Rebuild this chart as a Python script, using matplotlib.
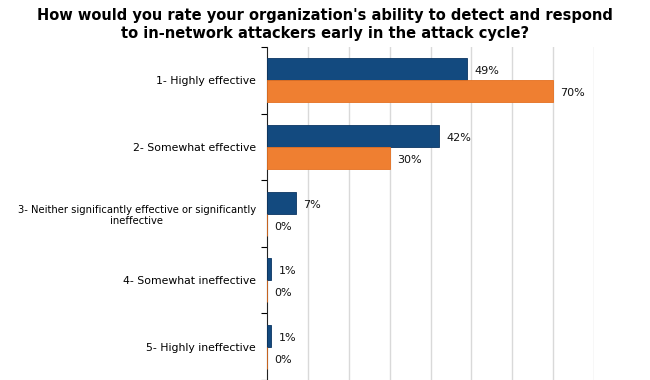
import matplotlib.pyplot as plt
import numpy as np

categories = ["1- Highly effective",
              "2- Somewhat effective",
              "3- Neither significantly effective or significantly\nineffective",
              "4- Somewhat ineffective",
              "5- Highly ineffective"]
blue_vals = [49, 42, 7, 1, 1]
orange_vals = [70, 30, 0, 0, 0]

blue = "#134A7F"
orange = "#EF7F31"

fig = plt.figure(figsize=(6.5, 3.8), dpi=100)
ax = fig.add_axes([0.411, 0.0, 0.503, 0.876])

y = np.arange(len(categories))
h = 0.33
ax.barh(y - h / 2, blue_vals, height=h, color=blue, edgecolor="#0B3563", linewidth=0.6, zorder=3)
ax.barh(y + h / 2, orange_vals, height=h, color=orange, edgecolor="#E57020", linewidth=0.6, zorder=3)

for i in range(len(categories)):
    ax.text(blue_vals[i] + 1.8, y[i] - h / 2 + 0.03, f"{blue_vals[i]}%", va="center", ha="left",
            fontsize=8, color="#111111")
    ax.text(orange_vals[i] + 1.8, y[i] + h / 2 + 0.03, f"{orange_vals[i]}%", va="center", ha="left",
            fontsize=8, color="#111111")

ax.set_xlim(0, 80)
ax.set_ylim(len(categories) - 0.5, -0.5)
ax.set_xticks(np.arange(10, 81, 10))
ax.xaxis.grid(True, color="#D9D9D9", linewidth=1, zorder=0)
ax.tick_params(axis="x", length=0, labelbottom=False)
ax.set_yticks(y)
ax.set_yticklabels(categories, fontsize=7.8, ha="right", multialignment="center")
ax.get_yticklabels()[2].set_fontsize(7.2)
ax.tick_params(axis="y", length=0, pad=8)
ax.set_yticks(np.arange(-0.5, len(categories), 1), minor=True)
ax.tick_params(axis="y", which="minor", length=4, width=0.8, direction="out")
for s in ["top", "right", "bottom"]:
    ax.spines[s].set_visible(False)
ax.spines["left"].set_color("#222222")

fig.suptitle("How would you rate your organization's ability to detect and respond\n"
             "to in-network attackers early in the attack cycle?",
             x=0.5, y=0.978, fontsize=10.5, fontweight="bold", linespacing=1.2)

fig.savefig("out.png", dpi=100)
